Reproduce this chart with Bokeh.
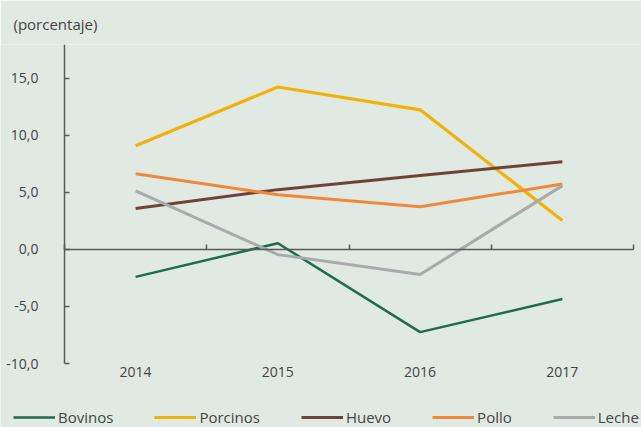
from bokeh.plotting import figure
from bokeh.models import (Range1d, FixedTicker, LinearAxis, Legend, LegendItem)
from bokeh.embed import file_html
from bokeh.resources import INLINE

# ---- data ----
years = [2014, 2015, 2016, 2017]
year_labels = ["2014", "2015", "2016", "2017"]
bovinos = [-2.4, 0.55, -7.25, -4.35]
porcinos = [9.1, 14.25, 12.25, 2.55]
huevo = [3.6, 5.25, 6.5, 7.7]
pollo = [6.65, 4.8, 3.75, 5.75]
leche = [5.15, -0.45, -2.2, 5.6]
series_names = ["Bovinos", "Porcinos", "Huevo", "Pollo", "Leche"]
y_ticks = [-10, -5, 0, 5, 10, 15]
y_tick_labels = ["-10,0", "-5,0", "0,0", "5,0", "10,0", "15,0"]
boundaries = [2013.5, 2014.5, 2015.5, 2016.5, 2017.5]
title_text = "(porcentaje)"

BG = "#e1e9e3"
TXT = "#444444"
AX = "#5a5a5a"
FONT = "Open Sans"
colors = ["#1e6b4e", "#f0b10a", "#6e4535", "#f0883a", "#a9aaab"]
widths = [2.5, 3.2, 3, 3, 3]

# layout geometry (pixels): plot area of the axes inside a full-width frame
W, H, TOP = 641, 427, 44
AX_L, AX_R, AX_B = 64, 633, 363
x0, x1 = 2013.5, 2017.5
y0, y1 = -10, 17.98
sx = (AX_R - AX_L) / (x1 - x0)
sy = (AX_B - TOP) / (y1 - y0)
x_range = Range1d(x0 - AX_L / sx, x1 + (W - AX_R) / sx)
y_range = Range1d(y0 - (H - AX_B) / sy, y1)

p = figure(width=W, height=H, output_backend="svg", toolbar_location=None,
           x_range=x_range, y_range=y_range,
           min_border_left=0, min_border_right=0, min_border_top=TOP,
           min_border_bottom=0)
p.background_fill_color = BG
p.border_fill_color = BG
p.outline_line_color = None
p.grid.visible = False

# title
p.title.text = title_text
p.title.text_font = FONT
p.title.text_font_size = "15px"
p.title.text_font_style = "normal"
p.title.text_color = TXT
p.title.align = "left"
p.title.offset = 13
p.title.standoff = 22

# y axis fixed at the left edge of the axes box
ya = p.yaxis[0]
ya.fixed_location = x0
ya.bounds = (y0, y1)
ya.ticker = FixedTicker(ticks=y_ticks)
ya.major_label_overrides = {t: l for t, l in zip(y_ticks, y_tick_labels)}
ya.major_tick_in = 5
ya.major_tick_out = 0
ya.minor_tick_line_color = None
ya.axis_line_color = AX
ya.axis_line_width = 1.5
ya.major_tick_line_color = AX
ya.major_tick_line_width = 1.5
ya.major_label_standoff = 26
ya.major_label_text_font = FONT
ya.major_label_text_font_size = "14px"
ya.major_label_text_color = TXT

# x axis (labels only) fixed at the bottom of the axes box
xa = p.xaxis[0]
xa.fixed_location = y0
xa.ticker = FixedTicker(ticks=years)
xa.major_label_overrides = {y: l for y, l in zip(years, year_labels)}
xa.axis_line_color = None
xa.major_tick_line_color = None
xa.minor_tick_line_color = None
xa.major_label_standoff = -3
xa.major_label_text_font = FONT
xa.major_label_text_font_size = "14px"
xa.major_label_text_color = TXT

# zero line axis with boundary ticks (no labels)
za = LinearAxis(ticker=FixedTicker(ticks=boundaries), fixed_location=0,
                bounds=(x0, x1))
za.major_label_overrides = {b: "" for b in boundaries}
za.axis_line_color = AX
za.axis_line_width = 1.5
za.major_tick_line_color = AX
za.major_tick_line_width = 1.5
za.major_tick_in = 5
za.major_tick_out = 0
za.minor_tick_line_color = None
za.major_label_standoff = 0
p.add_layout(za, "below")

data = [bovinos, porcinos, huevo, pollo, leche]
items = []
for name, vals, c, w in zip(series_names, data, colors, widths):
    r = p.line(years, vals, line_color=c, line_width=w)
    items.append(LegendItem(label=name, renderers=[r]))

legend = Legend(items=items, orientation="horizontal", location=(13, 0))
legend.padding = 0
legend.margin = 0
legend.spacing = 41
legend.glyph_width = 42
legend.glyph_height = 16
legend.label_height = 16
legend.label_standoff = 3
legend.label_text_font = FONT
legend.label_text_font_size = "15px"
legend.label_text_color = TXT
legend.border_line_alpha = 0
legend.background_fill_alpha = 0
p.add_layout(legend)

open("out.html", "w").write(file_html(p, INLINE))
